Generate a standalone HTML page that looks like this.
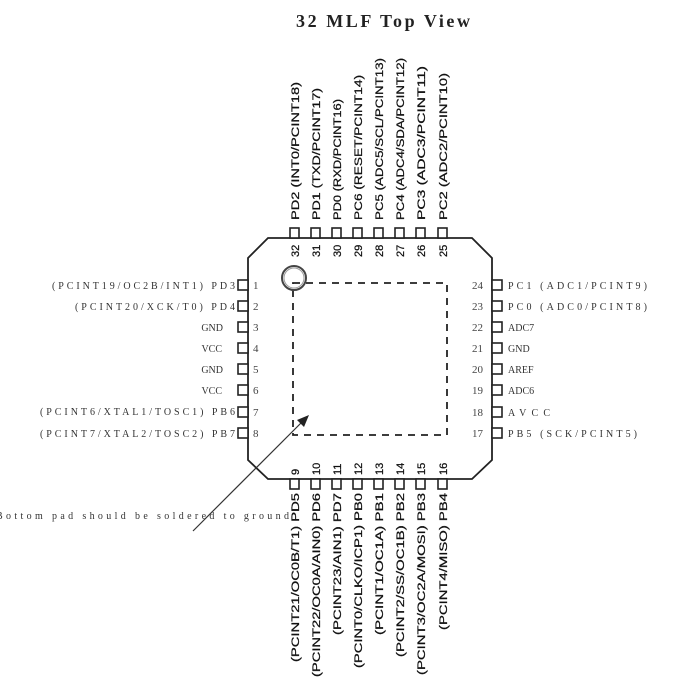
<!DOCTYPE html>
<html><head><meta charset="utf-8"><style>
html,body{margin:0;padding:0;background:#fff;width:700px;height:700px;overflow:hidden}
svg{display:block}
.s{font-family:"Liberation Serif",serif;font-size:10px;fill:#333}
.sp{font-family:"Liberation Serif",serif;font-size:10px;fill:#333;letter-spacing:3px}
.n{font-family:"Liberation Serif",serif;font-size:11px;fill:#444}
.v{font-family:"Liberation Sans",sans-serif;font-size:11px;fill:#111;stroke:#111;stroke-width:0.25}
</style></head><body>
<svg width="700" height="700" viewBox="0 0 700 700" xmlns="http://www.w3.org/2000/svg">
<text x="296" y="27" textLength="174" lengthAdjust="spacing" font-family="Liberation Serif,serif" font-weight="bold" font-size="18" fill="#222">32 MLF Top View</text>
<polygon points="268,238 472,238 492,258 492,460 472,479 268,479 248,460 248,258" fill="none" stroke="#222" stroke-width="1.8"/>
<rect x="293" y="283" width="154" height="152" fill="none" stroke="#222" stroke-width="1.8" stroke-dasharray="7,6"/>
<circle cx="294" cy="278" r="12" fill="none" stroke="#444" stroke-width="2"/>
<circle cx="294" cy="278" r="10" fill="none" stroke="#999" stroke-width="1"/>
<line x1="193" y1="531" x2="305" y2="419" stroke="#333" stroke-width="1.2"/>
<polygon points="309,415 297,420 304,427" fill="#222"/>
<text x="-4" y="519" class="sp" textLength="296" lengthAdjust="spacing">Bottom pad should be soldered to ground</text>
<g fill="#fff" stroke="#222" stroke-width="1.6">
<rect x="290" y="228" width="9" height="10"/><rect x="311" y="228" width="9" height="10"/><rect x="332" y="228" width="9" height="10"/><rect x="353" y="228" width="9" height="10"/><rect x="374" y="228" width="9" height="10"/><rect x="395" y="228" width="9" height="10"/><rect x="416" y="228" width="9" height="10"/><rect x="438" y="228" width="9" height="10"/>
<rect x="290" y="479" width="9" height="10"/><rect x="311" y="479" width="9" height="10"/><rect x="332" y="479" width="9" height="10"/><rect x="353" y="479" width="9" height="10"/><rect x="374" y="479" width="9" height="10"/><rect x="395" y="479" width="9" height="10"/><rect x="416" y="479" width="9" height="10"/><rect x="438" y="479" width="9" height="10"/>
<rect x="238" y="280" width="10" height="10"/><rect x="238" y="301" width="10" height="10"/><rect x="238" y="322" width="10" height="10"/><rect x="238" y="343" width="10" height="10"/><rect x="238" y="364" width="10" height="10"/><rect x="238" y="385" width="10" height="10"/><rect x="238" y="407" width="10" height="10"/><rect x="238" y="428" width="10" height="10"/>
<rect x="492" y="280" width="10" height="10"/><rect x="492" y="301" width="10" height="10"/><rect x="492" y="322" width="10" height="10"/><rect x="492" y="343" width="10" height="10"/><rect x="492" y="364" width="10" height="10"/><rect x="492" y="385" width="10" height="10"/><rect x="492" y="407" width="10" height="10"/><rect x="492" y="428" width="10" height="10"/>
</g>
<g class="sp">
<text x="52" y="289" textLength="186" lengthAdjust="spacing">(PCINT19/OC2B/INT1) PD3</text>
<text x="75" y="310" textLength="163" lengthAdjust="spacing">(PCINT20/XCK/T0) PD4</text>
<text x="40" y="415" textLength="198" lengthAdjust="spacing">(PCINT6/XTAL1/TOSC1) PB6</text>
<text x="40" y="437" textLength="198" lengthAdjust="spacing">(PCINT7/XTAL2/TOSC2) PB7</text>
</g>
<g class="s" text-anchor="end">
<text x="223" y="331">GND</text><text x="222" y="352">VCC</text><text x="223" y="373">GND</text><text x="222" y="394">VCC</text>
</g>
<g class="n">
<text x="253" y="289">1</text><text x="253" y="310">2</text><text x="253" y="331">3</text><text x="253" y="352">4</text><text x="253" y="373">5</text><text x="253" y="394">6</text><text x="253" y="416">7</text><text x="253" y="437">8</text>
</g>
<g class="n" text-anchor="end">
<text x="483" y="289">24</text><text x="483" y="310">23</text><text x="483" y="331">22</text><text x="483" y="352">21</text><text x="483" y="373">20</text><text x="483" y="394">19</text><text x="483" y="416">18</text><text x="483" y="437">17</text>
</g>
<g class="sp">
<text x="508" y="289" textLength="142" lengthAdjust="spacing">PC1 (ADC1/PCINT9)</text>
<text x="508" y="310" textLength="142" lengthAdjust="spacing">PC0 (ADC0/PCINT8)</text>
<text x="508" y="416" textLength="45" lengthAdjust="spacing">AVCC</text>
<text x="508" y="437" textLength="132" lengthAdjust="spacing">PB5 (SCK/PCINT5)</text>
</g>
<g class="s">
<text x="508" y="331">ADC7</text><text x="508" y="352">GND</text><text x="508" y="373">AREF</text><text x="508" y="394">ADC6</text>
</g>
<g class="v">
<text transform="translate(299,257) rotate(-90)">32</text>
<text transform="translate(320,257) rotate(-90)">31</text>
<text transform="translate(341,257) rotate(-90)">30</text>
<text transform="translate(362,257) rotate(-90)">29</text>
<text transform="translate(383,257) rotate(-90)">28</text>
<text transform="translate(404,257) rotate(-90)">27</text>
<text transform="translate(425,257) rotate(-90)">26</text>
<text transform="translate(447,257) rotate(-90)">25</text>
</g>
<g class="v">
<text transform="translate(299,475) rotate(-90)">9</text>
<text transform="translate(320,475) rotate(-90)">10</text>
<text transform="translate(341,475) rotate(-90)">11</text>
<text transform="translate(362,475) rotate(-90)">12</text>
<text transform="translate(383,475) rotate(-90)">13</text>
<text transform="translate(404,475) rotate(-90)">14</text>
<text transform="translate(425,475) rotate(-90)">15</text>
<text transform="translate(447,475) rotate(-90)">16</text>
</g>
<g class="v">
<text transform="translate(299,220) rotate(-90)" textLength="138" lengthAdjust="spacingAndGlyphs">PD2 (INT0/PCINT18)</text>
<text transform="translate(320,220) rotate(-90)" textLength="132" lengthAdjust="spacingAndGlyphs">PD1 (TXD/PCINT17)</text>
<text transform="translate(341,220) rotate(-90)" textLength="121" lengthAdjust="spacingAndGlyphs">PD0 (RXD/PCINT16)</text>
<text transform="translate(362,220) rotate(-90)" textLength="145" lengthAdjust="spacingAndGlyphs">PC6 (RESET/PCINT14)</text>
<text transform="translate(383,220) rotate(-90)" textLength="162" lengthAdjust="spacingAndGlyphs">PC5 (ADC5/SCL/PCINT13)</text>
<text transform="translate(404,220) rotate(-90)" textLength="162" lengthAdjust="spacingAndGlyphs">PC4 (ADC4/SDA/PCINT12)</text>
<text transform="translate(425,220) rotate(-90)" textLength="154" lengthAdjust="spacingAndGlyphs">PC3 (ADC3/PCINT11)</text>
<text transform="translate(447,220) rotate(-90)" textLength="147" lengthAdjust="spacingAndGlyphs">PC2 (ADC2/PCINT10)</text>
</g>
<g class="v" text-anchor="end">
<text transform="translate(299,493) rotate(-90)" textLength="169" lengthAdjust="spacingAndGlyphs">(PCINT21/OC0B/T1) PD5</text>
<text transform="translate(320,493) rotate(-90)" textLength="184" lengthAdjust="spacingAndGlyphs">(PCINT22/OC0A/AIN0) PD6</text>
<text transform="translate(341,493) rotate(-90)" textLength="142" lengthAdjust="spacingAndGlyphs">(PCINT23/AIN1) PD7</text>
<text transform="translate(362,493) rotate(-90)" textLength="175" lengthAdjust="spacingAndGlyphs">(PCINT0/CLKO/ICP1) PB0</text>
<text transform="translate(383,493) rotate(-90)" textLength="142" lengthAdjust="spacingAndGlyphs">(PCINT1/OC1A) PB1</text>
<text transform="translate(404,493) rotate(-90)" textLength="164" lengthAdjust="spacingAndGlyphs">(PCINT2/SS/OC1B) PB2</text>
<text transform="translate(425,493) rotate(-90)" textLength="182" lengthAdjust="spacingAndGlyphs">(PCINT3/OC2A/MOSI) PB3</text>
<text transform="translate(447,493) rotate(-90)" textLength="137" lengthAdjust="spacingAndGlyphs">(PCINT4/MISO) PB4</text>
</g>
</svg>
</body></html>
